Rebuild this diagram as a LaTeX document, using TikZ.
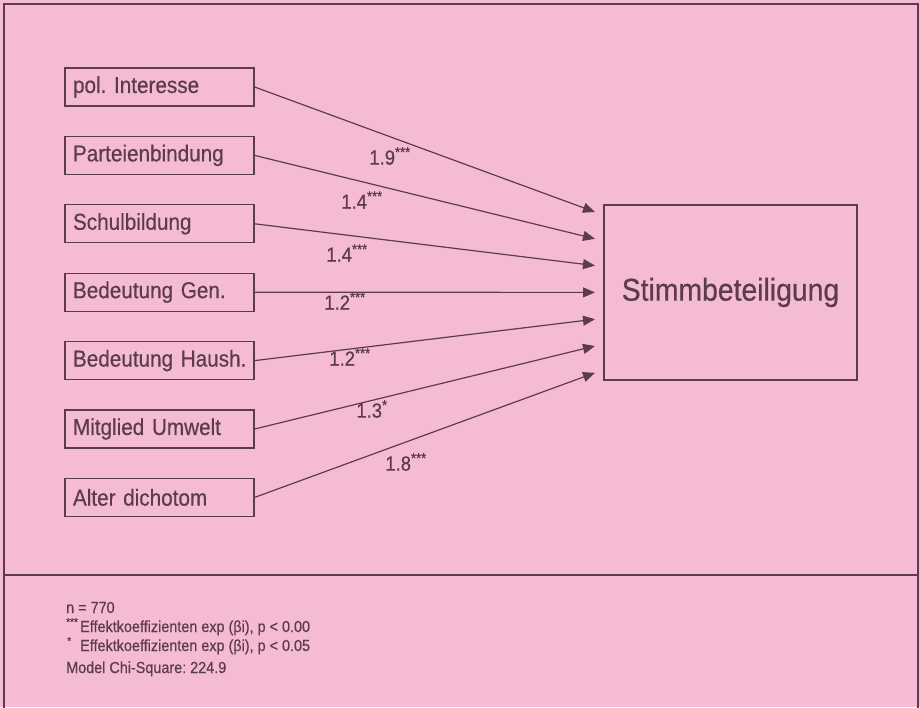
\documentclass[tikz,border=0pt]{standalone}
\usepackage{fontspec}
\setmainfont{Liberation Sans}[FakeStretch=0.9, FakeBold=0.5]
\usetikzlibrary{arrows.meta, positioning, calc}
\frenchspacing

\definecolor{pinkbg}{RGB}{245,187,213}
\definecolor{ink}{RGB}{92,60,76}

\tikzset{
  varbox/.style={draw=ink, line width=1.3pt, minimum height=38pt, text width=173pt,
    inner xsep=8pt, align=left, text=ink, font=\fontsize{23}{26}\selectfont},
  effect/.style={draw=ink, line width=1.2pt, -{Triangle[length=12pt,width=10pt]}},
  coef/.style={text=ink, inner sep=0pt, font=\fontsize{20.5}{24}\selectfont},
  note/.style={text=ink, inner sep=0pt, anchor=base west, font=\fontsize{16}{18}\selectfont},
}

\begin{document}
\begin{tikzpicture}[x=1pt, y=-1pt]
  \fill[pinkbg] (0,0) rectangle (920,707);
  \useasboundingbox (0,0) rectangle (920,707);
  % frame and divider
  \draw[ink, line width=1.2pt] (4,712) -- (4,4) -- (918,4) -- (918,712);
  \draw[ink, line width=1.2pt] (4,575) -- (918,575);

  \node[draw=ink, line width=1.3pt, minimum width=253pt, minimum height=175pt, text=ink,
    font=\fontsize{31.5}{36}\selectfont] (stimme) at (730.5,292.5) {Stimmbeteiligung};

  \foreach \name/\txt [count=\i] in {pol/pol. Interesse, partei/Parteienbindung, schule/Schulbildung,
      gen/Bedeutung Gen., haush/Bedeutung Haush., umwelt/Mitglied Umwelt, alter/Alter dichotom} {
    \node[varbox] (\name) at (159.5, 87+68.4*\i-68.4) {\mbox{\txt}};
    \coordinate (in\i) at (595, 212+26.8*\i-26.8);
  }
  \foreach \name [count=\i] in {pol, partei, schule, gen, haush, umwelt, alter}
    \draw[effect] (\name.east) -- (in\i);

  % coefficients
  \node[coef] (k1) at (390,156) {1.9\textsuperscript{***}};
  \node[coef] (k2) at (362,200) {1.4\textsuperscript{***}};
  \node[coef] (k3) at (347,253) {1.4\textsuperscript{***}};
  \node[coef] (k4) at (345,301) {1.2\textsuperscript{***}};
  \node[coef] (k5) at (350,357) {1.2\textsuperscript{***}};
  \node[coef] (k6) at (372,409) {1.3\textsuperscript{*}};
  \node[coef] (k7) at (406,462) {1.8\textsuperscript{***}};

  % notes
  \node[note] (nobs) at (66,613) {n = 770};
  \node[note] (s3) at (66,632) {\textsuperscript{***}};
  \node[note] (p3) at (80,632) {Effektkoeffizienten exp (βi), p < 0.00};
  \node[note] (s1) at (67,651) {\textsuperscript{*}};
  \node[note] (p1) at (80,651) {Effektkoeffizienten exp (βi), p < 0.05};
  \node[note] (chi) at (66,673) {Model Chi-Square: 224.9};
\end{tikzpicture}
\end{document}
